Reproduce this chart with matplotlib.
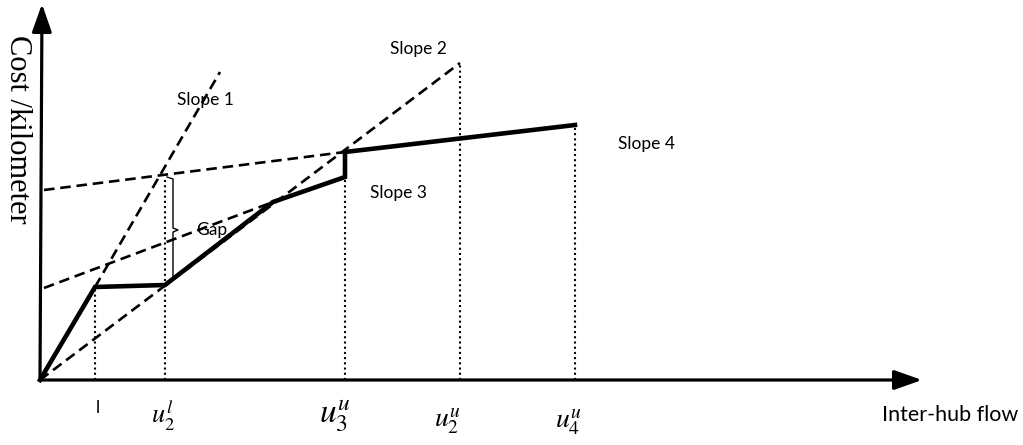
import matplotlib
matplotlib.use("Agg")
import matplotlib.pyplot as plt

plt.rcParams['mathtext.fontset'] = 'stix'

# breakpoints on the flow axis (schematic units)
x_l, x_u2l, x_kink, x_u3u, x_u2u, x_u4u = 55, 125, 233, 305, 420, 535

# piecewise cost curve (solid)
cost_x = [0, x_l, x_u2l, x_kink, x_u3u, x_u3u, x_u4u]
cost_y = [0, 93, 95, 178, 203, 228, 255]

# dashed slope lines: (x0, y0, x1, y1)
slope1 = [x_l, 93, 180, 308]
slope2 = [0, 0, x_u2u, 317]
slope_upper = [4, 190, x_u3u, 228]
slope_lower = [4, 92, x_kink, 178]

# dotted verticals: x and top y
drop_x = [x_l, x_u2l, x_u3u, x_u2u, x_u4u]
drop_top = [93, 202, 203, 317, 255]

tick_labels = ['l', r'$u_2^l$', r'$u_3^u$', r'$u_2^u$', r'$u_4^u$']

fig = plt.figure(figsize=(10.23, 4.45), dpi=100)
ax = fig.add_axes([0, 0, 1, 1])
ax.set_xlim(-40, 983)
ax.set_ylim(-65, 380)
ax.axis('off')

# axes with arrows
arrow = dict(arrowstyle='-|>,head_length=0.85,head_width=0.3',
             lw=2.3, color='black', mutation_scale=20, shrinkA=0, shrinkB=0)
ax.annotate('', xy=(882, 0), xytext=(0, 0), arrowprops=arrow)
ax.annotate('', xy=(2, 376), xytext=(0, 0), arrowprops=arrow)

# dashed slope lines
for seg in [slope1, slope2, slope_upper, slope_lower]:
    ax.plot([seg[0], seg[2]], [seg[1], seg[3]], color='black', lw=1.9,
            linestyle=(0, (4, 2.2)))

# dotted drop lines
for xv, yt in zip(drop_x, drop_top):
    ax.plot([xv, xv], [0, yt], color='black', lw=1.5, linestyle=(0, (1, 1.5)))

# solid cost curve
ax.plot(cost_x, cost_y, color='black', lw=3.3, solid_joinstyle='miter')

# gap brace
brace_x = [127, 133, 133, 138, 133, 133, 128]
brace_y = [203, 201, 152, 150, 148, 100, 96]
ax.plot(brace_x, brace_y, color='black', lw=1.0)

sans = 'Lato'
ax.text(165, 280, 'Slope 1', fontsize=12.5, family=sans, ha='center', va='center')
ax.text(378, 331, 'Slope 2', fontsize=12.5, family=sans, ha='center', va='center')
ax.text(358, 187, 'Slope 3', fontsize=12.5, family=sans, ha='center', va='center')
ax.text(607, 236, 'Slope 4', fontsize=12.5, family=sans, ha='center', va='center')
ax.text(172, 150, 'Gap', fontsize=12.5, family=sans, ha='center', va='center')

ax.text(910, -35, 'Inter-hub flow', fontsize=15.5, family=sans, ha='center', va='center')
ax.text(-23, 251, 'Cost /kilometer', fontsize=22, family='Liberation Serif',
        rotation=-90, ha='center', va='center')

# flow axis labels
label_x = [58, 123, 295, 408, 529]
label_y = [-28, -36, -36, -42, -43]
label_size = [12.5, 19, 24, 20, 20]
for t, lx, ly, fs in zip(tick_labels, label_x, label_y, label_size):
    ax.text(lx, ly, t, fontsize=fs, family=sans if t == 'l' else None,
            ha='center', va='center')

fig.savefig('out.png', dpi=100)
